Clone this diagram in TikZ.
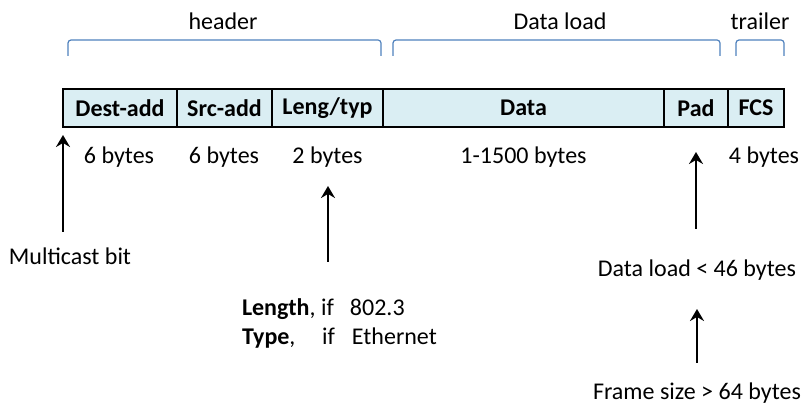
\documentclass[tikz,border=0pt]{standalone}
\usepackage{fontspec}
\setmainfont{Carlito}
\usetikzlibrary{arrows.meta}
\definecolor{boxfill}{HTML}{DAEEF3}
\definecolor{brk}{HTML}{4F81BD}
\begin{document}
\begin{tikzpicture}[x=1pt,y=-1pt,
  every node/.style={font=\fontsize{24}{29}\selectfont, inner sep=0pt, outer sep=0pt},
  field/.style={draw=black, line width=2.8pt, fill=boxfill, minimum height=38pt, font=\fontsize{24}{29}\selectfont\bfseries},
  brace/.style={draw=brk, line width=1.2pt, rounded corners=3pt},
  arr/.style={draw=black, line width=2.8pt, -{Stealth[length=12pt,width=14pt,inset=4pt]}}
]
\useasboundingbox (0,0) rectangle (804,406);
% brackets
\draw[brace] (68,56) -- (68,40) -- (381,40) -- (381,56);
\draw[brace] (393,56) -- (393,40) -- (720,40) -- (720,56);
\draw[brace] (736,56) -- (736,40) -- (784,40) -- (784,56);
\node (hdr) at (223,21) {header};
\node (dl) at (560,21) {Data load};
\node (tr) at (760,21) {trailer};
% fields
\node[field, minimum width=114pt] (dest) at (120,108) {Dest-add};
\node[field, minimum width=95pt] (src) at (224.5,108) {Src-add};
\node[field, minimum width=111pt] (len) at (327.5,108) {Leng/typ};
\node[field, minimum width=281pt] (data) at (523.5,108) {Data};
\node[field, minimum width=64pt] (pad) at (696,108) {Pad};
\node[field, minimum width=56pt] (fcs) at (756,108) {FCS};
% byte labels
\node (b1) at (119,157) {6 bytes};
\node (b2) at (224,157) {6 bytes};
\node (b3) at (327.5,157) {2 bytes};
\node (b4) at (523.5,157) {1-1500 bytes};
\node (b5) at (764,157) {4 bytes};
% annotations
\node (mc) at (70,256) {Multicast bit};
\node[anchor=west, align=left] (lt) at (242,323.5) {\makebox[79pt][l]{\textbf{Length},}\makebox[29pt][l]{if}802.3\\\makebox[80pt][l]{\textbf{Type},}\makebox[30pt][l]{if}Ethernet};
\node (dl46) at (697,270) {Data load < 46 bytes};
\node (fs64) at (697,393) {Frame size > 64 bytes};
% arrows
\coordinate (mcA) at (63,232);
\coordinate (mcB) at (63,135);
\draw[arr] (mcA) -- (mcB);
\coordinate (ltA) at (328,262);
\coordinate (ltB) at (328,186);
\draw[arr] (ltA) -- (ltB);
\coordinate (padA) at (696,229);
\coordinate (padB) at (696,152);
\draw[arr] (padA) -- (padB);
\coordinate (fsA) at (697,363);
\coordinate (fsB) at (697,309);
\draw[arr] (fsA) -- (fsB);
\end{tikzpicture}
\end{document}
